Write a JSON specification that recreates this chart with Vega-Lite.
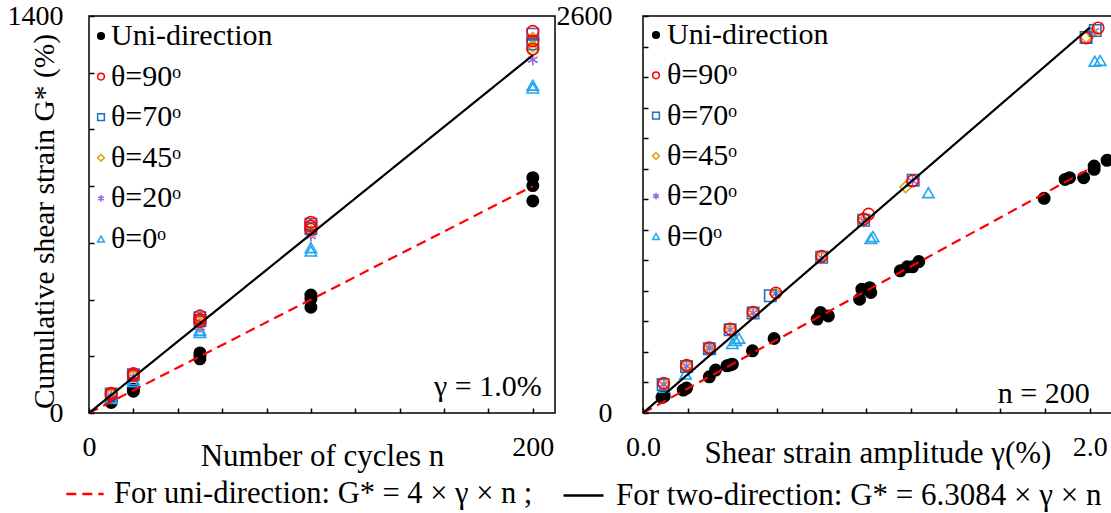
{
  "$schema": "https://vega.github.io/schema/vega-lite/v6.json",
  "background": "white",
  "padding": {"left": 6, "top": 1, "right": 1, "bottom": 0},
  "spacing": 88,
  "bounds": "flush",
  "config": {
    "font": "Liberation Serif",
    "view": {"stroke": "#000000", "strokeWidth": 1.5},
    "axis": {
      "domain": false,
      "grid": false,
      "tickColor": "#000000",
      "tickWidth": 1.5,
      "tickSize": -5,
      "labelFont": "Liberation Serif",
      "labelFontSize": 28,
      "labelColor": "#000000",
      "labelFlush": false,
      "labelOverlap": false,
      "labelBound": false,
      "titleFont": "Liberation Serif",
      "titleFontSize": 31,
      "titleFontWeight": "normal",
      "titleColor": "#000000"
    },
    "legend": {
      "labelFont": "Liberation Serif",
      "labelColor": "#000000",
      "labelLimit": 700,
      "padding": 0
    },
    "text": {"font": "Liberation Serif"}
  },
  "datasets": {
    "leftPts": [
      {"x": 10, "y": 43, "s": "Uni-direction"}, {"x": 10, "y": 37, "s": "Uni-direction"},
      {"x": 20, "y": 84, "s": "Uni-direction"}, {"x": 20, "y": 77, "s": "Uni-direction"},
      {"x": 50, "y": 212, "s": "Uni-direction"}, {"x": 50, "y": 202, "s": "Uni-direction"}, {"x": 50, "y": 191, "s": "Uni-direction"},
      {"x": 100, "y": 416, "s": "Uni-direction"}, {"x": 100, "y": 402, "s": "Uni-direction"}, {"x": 100, "y": 373, "s": "Uni-direction"},
      {"x": 200, "y": 830, "s": "Uni-direction"}, {"x": 200, "y": 802, "s": "Uni-direction"}, {"x": 200, "y": 748, "s": "Uni-direction"},
      {"x": 10, "y": 55, "s": "θ=0ᵒ"}, {"x": 10, "y": 51, "s": "θ=0ᵒ"},
      {"x": 20, "y": 117, "s": "θ=0ᵒ"}, {"x": 20, "y": 110, "s": "θ=0ᵒ"},
      {"x": 50, "y": 292, "s": "θ=0ᵒ"}, {"x": 50, "y": 284, "s": "θ=0ᵒ"},
      {"x": 100, "y": 583, "s": "θ=0ᵒ"}, {"x": 100, "y": 571, "s": "θ=0ᵒ"},
      {"x": 200, "y": 1156, "s": "θ=0ᵒ"}, {"x": 200, "y": 1146, "s": "θ=0ᵒ"},
      {"x": 10, "y": 62, "s": "θ=20ᵒ"}, {"x": 20, "y": 127, "s": "θ=20ᵒ"},
      {"x": 50, "y": 312, "s": "θ=20ᵒ"}, {"x": 50, "y": 302, "s": "θ=20ᵒ"},
      {"x": 100, "y": 633, "s": "θ=20ᵒ"}, {"x": 100, "y": 624, "s": "θ=20ᵒ"},
      {"x": 200, "y": 1246, "s": "θ=20ᵒ"},
      {"x": 10, "y": 65, "s": "θ=45ᵒ"}, {"x": 20, "y": 131, "s": "θ=45ᵒ"},
      {"x": 50, "y": 331, "s": "θ=45ᵒ"}, {"x": 50, "y": 318, "s": "θ=45ᵒ"},
      {"x": 100, "y": 661, "s": "θ=45ᵒ"}, {"x": 100, "y": 640, "s": "θ=45ᵒ"},
      {"x": 200, "y": 1322, "s": "θ=45ᵒ"}, {"x": 200, "y": 1294, "s": "θ=45ᵒ"}, {"x": 200, "y": 1280, "s": "θ=45ᵒ"},
      {"x": 10, "y": 67, "s": "θ=70ᵒ"}, {"x": 20, "y": 135, "s": "θ=70ᵒ"},
      {"x": 50, "y": 336, "s": "θ=70ᵒ"}, {"x": 50, "y": 326, "s": "θ=70ᵒ"},
      {"x": 100, "y": 666, "s": "θ=70ᵒ"}, {"x": 100, "y": 651, "s": "θ=70ᵒ"},
      {"x": 200, "y": 1336, "s": "θ=70ᵒ"}, {"x": 200, "y": 1302, "s": "θ=70ᵒ"},
      {"x": 10, "y": 70, "s": "θ=90ᵒ"}, {"x": 10, "y": 66, "s": "θ=90ᵒ"},
      {"x": 20, "y": 139, "s": "θ=90ᵒ"}, {"x": 20, "y": 132, "s": "θ=90ᵒ"},
      {"x": 50, "y": 343, "s": "θ=90ᵒ"}, {"x": 50, "y": 331, "s": "θ=90ᵒ"}, {"x": 50, "y": 322, "s": "θ=90ᵒ"},
      {"x": 100, "y": 673, "s": "θ=90ᵒ"}, {"x": 100, "y": 660, "s": "θ=90ᵒ"}, {"x": 100, "y": 648, "s": "θ=90ᵒ"},
      {"x": 200, "y": 1346, "s": "θ=90ᵒ"}, {"x": 200, "y": 1312, "s": "θ=90ᵒ"}, {"x": 200, "y": 1283, "s": "θ=90ᵒ"}
    ],
    "rightPts": [
      {"x": 0.085, "y": 102, "s": "Uni-direction"}, {"x": 0.095, "y": 110, "s": "Uni-direction"},
      {"x": 0.18, "y": 150, "s": "Uni-direction"}, {"x": 0.195, "y": 163, "s": "Uni-direction"},
      {"x": 0.297, "y": 237, "s": "Uni-direction"}, {"x": 0.325, "y": 281, "s": "Uni-direction"},
      {"x": 0.376, "y": 309, "s": "Uni-direction"}, {"x": 0.39, "y": 315, "s": "Uni-direction"}, {"x": 0.4, "y": 320, "s": "Uni-direction"},
      {"x": 0.49, "y": 407, "s": "Uni-direction"}, {"x": 0.587, "y": 488, "s": "Uni-direction"},
      {"x": 0.78, "y": 615, "s": "Uni-direction"}, {"x": 0.795, "y": 658, "s": "Uni-direction"}, {"x": 0.83, "y": 636, "s": "Uni-direction"},
      {"x": 0.97, "y": 745, "s": "Uni-direction"}, {"x": 0.98, "y": 811, "s": "Uni-direction"}, {"x": 1.015, "y": 821, "s": "Uni-direction"}, {"x": 1.02, "y": 789, "s": "Uni-direction"},
      {"x": 1.152, "y": 931, "s": "Uni-direction"}, {"x": 1.183, "y": 957, "s": "Uni-direction"}, {"x": 1.207, "y": 957, "s": "Uni-direction"}, {"x": 1.235, "y": 992, "s": "Uni-direction"},
      {"x": 1.796, "y": 1406, "s": "Uni-direction"}, {"x": 1.89, "y": 1530, "s": "Uni-direction"}, {"x": 1.91, "y": 1541, "s": "Uni-direction"},
      {"x": 1.973, "y": 1541, "s": "Uni-direction"}, {"x": 2.02, "y": 1596, "s": "Uni-direction"}, {"x": 2.02, "y": 1617, "s": "Uni-direction"}, {"x": 2.078, "y": 1655, "s": "Uni-direction"},
      {"x": 0.093, "y": 168, "s": "θ=0ᵒ"}, {"x": 0.19, "y": 255, "s": "θ=0ᵒ"}, {"x": 0.3, "y": 420, "s": "θ=0ᵒ"},
      {"x": 0.4, "y": 455, "s": "θ=0ᵒ"}, {"x": 0.415, "y": 475, "s": "θ=0ᵒ"}, {"x": 0.43, "y": 490, "s": "θ=0ᵒ"},
      {"x": 1.02, "y": 1142, "s": "θ=0ᵒ"}, {"x": 1.03, "y": 1155, "s": "θ=0ᵒ"}, {"x": 1.278, "y": 1443, "s": "θ=0ᵒ"},
      {"x": 2.023, "y": 2304, "s": "θ=0ᵒ"}, {"x": 2.047, "y": 2309, "s": "θ=0ᵒ"},
      {"x": 0.093, "y": 188, "s": "θ=20ᵒ"}, {"x": 0.195, "y": 307, "s": "θ=20ᵒ"}, {"x": 0.297, "y": 423, "s": "θ=20ᵒ"},
      {"x": 0.39, "y": 545, "s": "θ=20ᵒ"}, {"x": 0.493, "y": 656, "s": "θ=20ᵒ"}, {"x": 0.595, "y": 782, "s": "θ=20ᵒ"},
      {"x": 0.8, "y": 1018, "s": "θ=20ᵒ"}, {"x": 0.988, "y": 1262, "s": "θ=20ᵒ"}, {"x": 1.207, "y": 1519, "s": "θ=20ᵒ"}, {"x": 2.02, "y": 2500, "s": "θ=20ᵒ"},
      {"x": 0.09, "y": 190, "s": "θ=45ᵒ"}, {"x": 0.195, "y": 309, "s": "θ=45ᵒ"}, {"x": 0.297, "y": 425, "s": "θ=45ᵒ"},
      {"x": 0.39, "y": 540, "s": "θ=45ᵒ"}, {"x": 0.493, "y": 658, "s": "θ=45ᵒ"}, {"x": 0.595, "y": 780, "s": "θ=45ᵒ"},
      {"x": 0.8, "y": 1022, "s": "θ=45ᵒ"}, {"x": 0.988, "y": 1258, "s": "θ=45ᵒ"}, {"x": 1.176, "y": 1480, "s": "θ=45ᵒ"},
      {"x": 1.984, "y": 2462, "s": "θ=45ᵒ"}, {"x": 2.01, "y": 2490, "s": "θ=45ᵒ"},
      {"x": 0.09, "y": 186, "s": "θ=70ᵒ"}, {"x": 0.195, "y": 305, "s": "θ=70ᵒ"}, {"x": 0.297, "y": 420, "s": "θ=70ᵒ"},
      {"x": 0.39, "y": 545, "s": "θ=70ᵒ"}, {"x": 0.493, "y": 655, "s": "θ=70ᵒ"}, {"x": 0.57, "y": 768, "s": "θ=70ᵒ"},
      {"x": 0.8, "y": 1020, "s": "θ=70ᵒ"}, {"x": 0.988, "y": 1262, "s": "θ=70ᵒ"}, {"x": 1.21, "y": 1525, "s": "θ=70ᵒ"},
      {"x": 1.984, "y": 2460, "s": "θ=70ᵒ"}, {"x": 2.025, "y": 2505, "s": "θ=70ᵒ"},
      {"x": 0.093, "y": 195, "s": "θ=90ᵒ"}, {"x": 0.195, "y": 312, "s": "θ=90ᵒ"}, {"x": 0.297, "y": 428, "s": "θ=90ᵒ"},
      {"x": 0.39, "y": 550, "s": "θ=90ᵒ"}, {"x": 0.493, "y": 660, "s": "θ=90ᵒ"}, {"x": 0.595, "y": 786, "s": "θ=90ᵒ"},
      {"x": 0.8, "y": 1026, "s": "θ=90ᵒ"}, {"x": 0.988, "y": 1270, "s": "θ=90ᵒ"}, {"x": 1.01, "y": 1303, "s": "θ=90ᵒ"},
      {"x": 1.207, "y": 1520, "s": "θ=90ᵒ"}, {"x": 1.984, "y": 2456, "s": "θ=90ᵒ"}, {"x": 2.038, "y": 2522, "s": "θ=90ᵒ"}
    ],
    "leftFit": [
      {"x": 0, "y": 0, "f": "For uni-direction:  G* = 4 × γ × n ;"},
      {"x": 200, "y": 800, "f": "For uni-direction:  G* = 4 × γ × n ;"},
      {"x": 0, "y": 0, "f": "For two-direction:  G* = 6.3084 × γ × n"},
      {"x": 200, "y": 1261.68, "f": "For two-direction:  G* = 6.3084 × γ × n"}
    ],
    "rightFit": [
      {"x": 0, "y": 0, "f": "For uni-direction:  G* = 4 × γ × n ;"},
      {"x": 2.0, "y": 1600, "f": "For uni-direction:  G* = 4 × γ × n ;"},
      {"x": 0, "y": 0, "f": "For two-direction:  G* = 6.3084 × γ × n"},
      {"x": 2.0, "y": 2523.36, "f": "For two-direction:  G* = 6.3084 × γ × n"}
    ],
    "leftNote": [{"x": 204, "y": 90, "t": "γ = 1.0%"}],
    "rightNote": [{"x": 2.0, "y": 126, "t": "n = 200"}]
  },
  "resolve": {
    "scale": {"x": "independent", "y": "independent", "stroke": "independent", "fill": "independent", "shape": "independent", "color": "independent", "strokeDash": "independent"},
    "legend": {"stroke": "independent", "fill": "independent", "shape": "independent", "color": "independent", "strokeDash": "independent"}
  },
  "hconcat": [
    {
      "width": 466,
      "height": 397,
      "layer": [
        {
          "data": {"name": "leftPts"},
          "mark": {"type": "point", "size": 130, "strokeWidth": 1.6, "opacity": 1},
          "encoding": {
            "x": {
              "field": "x", "type": "quantitative",
              "scale": {"domain": [0, 210], "nice": false, "zero": false},
              "axis": {
                "values": [0, 20, 40, 60, 80, 100, 120, 140, 160, 180, 200],
                "labelExpr": "datum.value == 0 || datum.value == 200 ? datum.label : ''",
                "labelAlign": "center",
                "labelPadding": 25,
                "title": "Number of cycles  n",
                "titleY": 43,
                "titleBaseline": "middle"
              }
            },
            "y": {
              "field": "y", "type": "quantitative",
              "scale": {"domain": [0, 1400], "nice": false},
              "axis": {
                "values": [0, 100, 200, 300, 400, 500, 600, 700, 800, 900, 1000, 1100, 1200, 1300, 1400],
                "labelExpr": "datum.value == 0 || datum.value == 1400 ? datum.label : ''",
                "format": "d",
                "labelPadding": 31,
                "title": "Cumulative  shear strain  G* (%)",
                "titleFontSize": 29.5,
                "titleX": -30,
                "titleY": 205
              }
            },
            "shape": {
              "field": "s", "type": "nominal",
              "scale": {
                "domain": ["Uni-direction", "θ=90ᵒ", "θ=70ᵒ", "θ=45ᵒ", "θ=20ᵒ", "θ=0ᵒ"],
                "range": ["circle", "circle", "square", "diamond", "M0,-1L0,1M-0.866,-0.5L0.866,0.5M-0.866,0.5L0.866,-0.5", "triangle-up"]
              },
              "legend": {"orient": "none", "legendX": -3, "legendY": 5, "title": null, "labelFont": "Liberation Serif", "labelFontSize": 30, "symbolSize": 45, "symbolStrokeWidth": 1.5, "rowPadding": 10.6, "labelOffset": -5}
            },
            "stroke": {
              "field": "s", "type": "nominal",
              "scale": {
                "domain": ["Uni-direction", "θ=90ᵒ", "θ=70ᵒ", "θ=45ᵒ", "θ=20ᵒ", "θ=0ᵒ"],
                "range": ["#000000", "#ff0000", "#1f6fbf", "#d9a20b", "#9966dd", "#22a7f0"]
              },
              "legend": {"orient": "none", "legendX": -3, "legendY": 5, "title": null, "labelFont": "Liberation Serif", "labelFontSize": 30, "symbolSize": 45, "symbolStrokeWidth": 1.5, "rowPadding": 10.6, "labelOffset": -5}
            },
            "fill": {
              "field": "s", "type": "nominal",
              "scale": {
                "domain": ["Uni-direction", "θ=90ᵒ", "θ=70ᵒ", "θ=45ᵒ", "θ=20ᵒ", "θ=0ᵒ"],
                "range": ["#000000", "transparent", "transparent", "transparent", "transparent", "transparent"]
              },
              "legend": {"orient": "none", "legendX": -3, "legendY": 5, "title": null, "labelFont": "Liberation Serif", "labelFontSize": 30, "symbolSize": 45, "symbolStrokeWidth": 1.5, "rowPadding": 10.6, "labelOffset": -5}
            }
          }
        },
        {
          "data": {"name": "leftFit"},
          "mark": {"type": "line", "strokeWidth": 2.2},
          "encoding": {
            "x": {"field": "x", "type": "quantitative"},
            "y": {"field": "y", "type": "quantitative"},
            "color": {
              "field": "f", "type": "nominal",
              "scale": {"domain": ["For uni-direction:  G* = 4 × γ × n ;", "For two-direction:  G* = 6.3084 × γ × n"], "range": ["#ff0000", "#000000"]},
              "legend": {"orient": "none", "legendX": -24, "legendY": 458, "values": ["For uni-direction:  G* = 4 × γ × n ;"], "title": null, "direction": "horizontal", "symbolType": "stroke", "symbolSize": 1400, "symbolStrokeWidth": 2.5, "labelFont": "Liberation Serif", "labelFontSize": 30.5, "labelOffset": 9}
            },
            "strokeDash": {
              "field": "f", "type": "nominal",
              "scale": {"domain": ["For uni-direction:  G* = 4 × γ × n ;", "For two-direction:  G* = 6.3084 × γ × n"], "range": [[10, 6], [1, 0]]},
              "legend": {"orient": "none", "legendX": -24, "legendY": 458, "values": ["For uni-direction:  G* = 4 × γ × n ;"], "title": null, "direction": "horizontal", "symbolType": "stroke", "symbolSize": 1400, "symbolStrokeWidth": 2.5, "labelFont": "Liberation Serif", "labelFontSize": 30.5, "labelOffset": 9}
            }
          }
        },
        {
          "data": {"name": "leftNote"},
          "mark": {"type": "text", "align": "right", "baseline": "middle", "fontSize": 30, "font": "Liberation Serif", "color": "#000000"},
          "encoding": {
            "x": {"field": "x", "type": "quantitative"},
            "y": {"field": "y", "type": "quantitative"},
            "text": {"field": "t"}
          }
        }
      ]
    },
    {
      "width": 469,
      "height": 397,
      "resolve": {"axis": {"y": "independent"}},
      "layer": [
        {
          "data": {"name": "rightPts"},
          "mark": {"type": "point", "size": 130, "strokeWidth": 1.6, "opacity": 1},
          "encoding": {
            "x": {
              "field": "x", "type": "quantitative",
              "scale": {"domain": [0, 2.1], "nice": false, "zero": false},
              "axis": {
                "values": [0, 0.2, 0.4, 0.6, 0.8, 1.0, 1.2, 1.4, 1.6, 1.8, 2.0],
                "format": ".1f",
                "labelExpr": "datum.value == 0 || datum.value == 2 ? datum.label : ''",
                "labelAlign": "center",
                "labelPadding": 25,
                "title": "Shear strain amplitude  γ(%)",
                "titleY": 40,
                "titleBaseline": "middle"
              }
            },
            "y": {
              "field": "y", "type": "quantitative",
              "scale": {"domain": [0, 2600], "nice": false},
              "axis": {
                "orient": "left",
                "values": [0, 200, 400, 600, 800, 1000, 1200, 1400, 1600, 1800, 2000, 2200, 2400, 2600],
                "labels": false,
                "title": null
              }
            },
            "shape": {
              "field": "s", "type": "nominal",
              "scale": {
                "domain": ["Uni-direction", "θ=90ᵒ", "θ=70ᵒ", "θ=45ᵒ", "θ=20ᵒ", "θ=0ᵒ"],
                "range": ["circle", "circle", "square", "diamond", "M0,-1L0,1M-0.866,-0.5L0.866,0.5M-0.866,0.5L0.866,-0.5", "triangle-up"]
              },
              "legend": {"orient": "none", "legendX": -2, "legendY": 4, "title": null, "labelFont": "Liberation Serif", "labelFontSize": 30, "symbolSize": 45, "symbolStrokeWidth": 1.5, "rowPadding": 10.3, "labelOffset": -4}
            },
            "stroke": {
              "field": "s", "type": "nominal",
              "scale": {
                "domain": ["Uni-direction", "θ=90ᵒ", "θ=70ᵒ", "θ=45ᵒ", "θ=20ᵒ", "θ=0ᵒ"],
                "range": ["#000000", "#ff0000", "#1f6fbf", "#d9a20b", "#9966dd", "#22a7f0"]
              },
              "legend": {"orient": "none", "legendX": -2, "legendY": 4, "title": null, "labelFont": "Liberation Serif", "labelFontSize": 30, "symbolSize": 45, "symbolStrokeWidth": 1.5, "rowPadding": 10.3, "labelOffset": -4}
            },
            "fill": {
              "field": "s", "type": "nominal",
              "scale": {
                "domain": ["Uni-direction", "θ=90ᵒ", "θ=70ᵒ", "θ=45ᵒ", "θ=20ᵒ", "θ=0ᵒ"],
                "range": ["#000000", "transparent", "transparent", "transparent", "transparent", "transparent"]
              },
              "legend": {"orient": "none", "legendX": -2, "legendY": 4, "title": null, "labelFont": "Liberation Serif", "labelFontSize": 30, "symbolSize": 45, "symbolStrokeWidth": 1.5, "rowPadding": 10.3, "labelOffset": -4}
            }
          }
        },
        {
          "data": {"name": "rightFit"},
          "mark": {"type": "line", "strokeWidth": 2.2},
          "encoding": {
            "x": {"field": "x", "type": "quantitative"},
            "y": {"field": "y", "type": "quantitative", "axis": null},
            "color": {
              "field": "f", "type": "nominal",
              "scale": {"domain": ["For uni-direction:  G* = 4 × γ × n ;", "For two-direction:  G* = 6.3084 × γ × n"], "range": ["#ff0000", "#000000"]},
              "legend": {"orient": "none", "legendX": -81, "legendY": 458, "values": ["For two-direction:  G* = 6.3084 × γ × n"], "title": null, "direction": "horizontal", "symbolType": "stroke", "symbolSize": 1600, "symbolStrokeWidth": 2.5, "labelFont": "Liberation Serif", "labelFontSize": 31, "labelOffset": 11}
            },
            "strokeDash": {
              "field": "f", "type": "nominal",
              "scale": {"domain": ["For uni-direction:  G* = 4 × γ × n ;", "For two-direction:  G* = 6.3084 × γ × n"], "range": [[10, 6], [1, 0]]},
              "legend": {"orient": "none", "legendX": -81, "legendY": 458, "values": ["For two-direction:  G* = 6.3084 × γ × n"], "title": null, "direction": "horizontal", "symbolType": "stroke", "symbolSize": 1600, "symbolStrokeWidth": 2.5, "labelFont": "Liberation Serif", "labelFontSize": 31, "labelOffset": 11}
            }
          }
        },
        {
          "data": {"name": "rightNote"},
          "mark": {"type": "text", "align": "right", "baseline": "middle", "fontSize": 30, "font": "Liberation Serif", "color": "#000000"},
          "encoding": {
            "x": {"field": "x", "type": "quantitative"},
            "y": {
              "field": "y", "type": "quantitative",
              "axis": {
                "orient": "left",
                "values": [0, 2600],
                "format": "d",
                "ticks": false,
                "labelPadding": 31,
                "title": null
              }
            },
            "text": {"field": "t"}
          }
        }
      ]
    }
  ]
}
